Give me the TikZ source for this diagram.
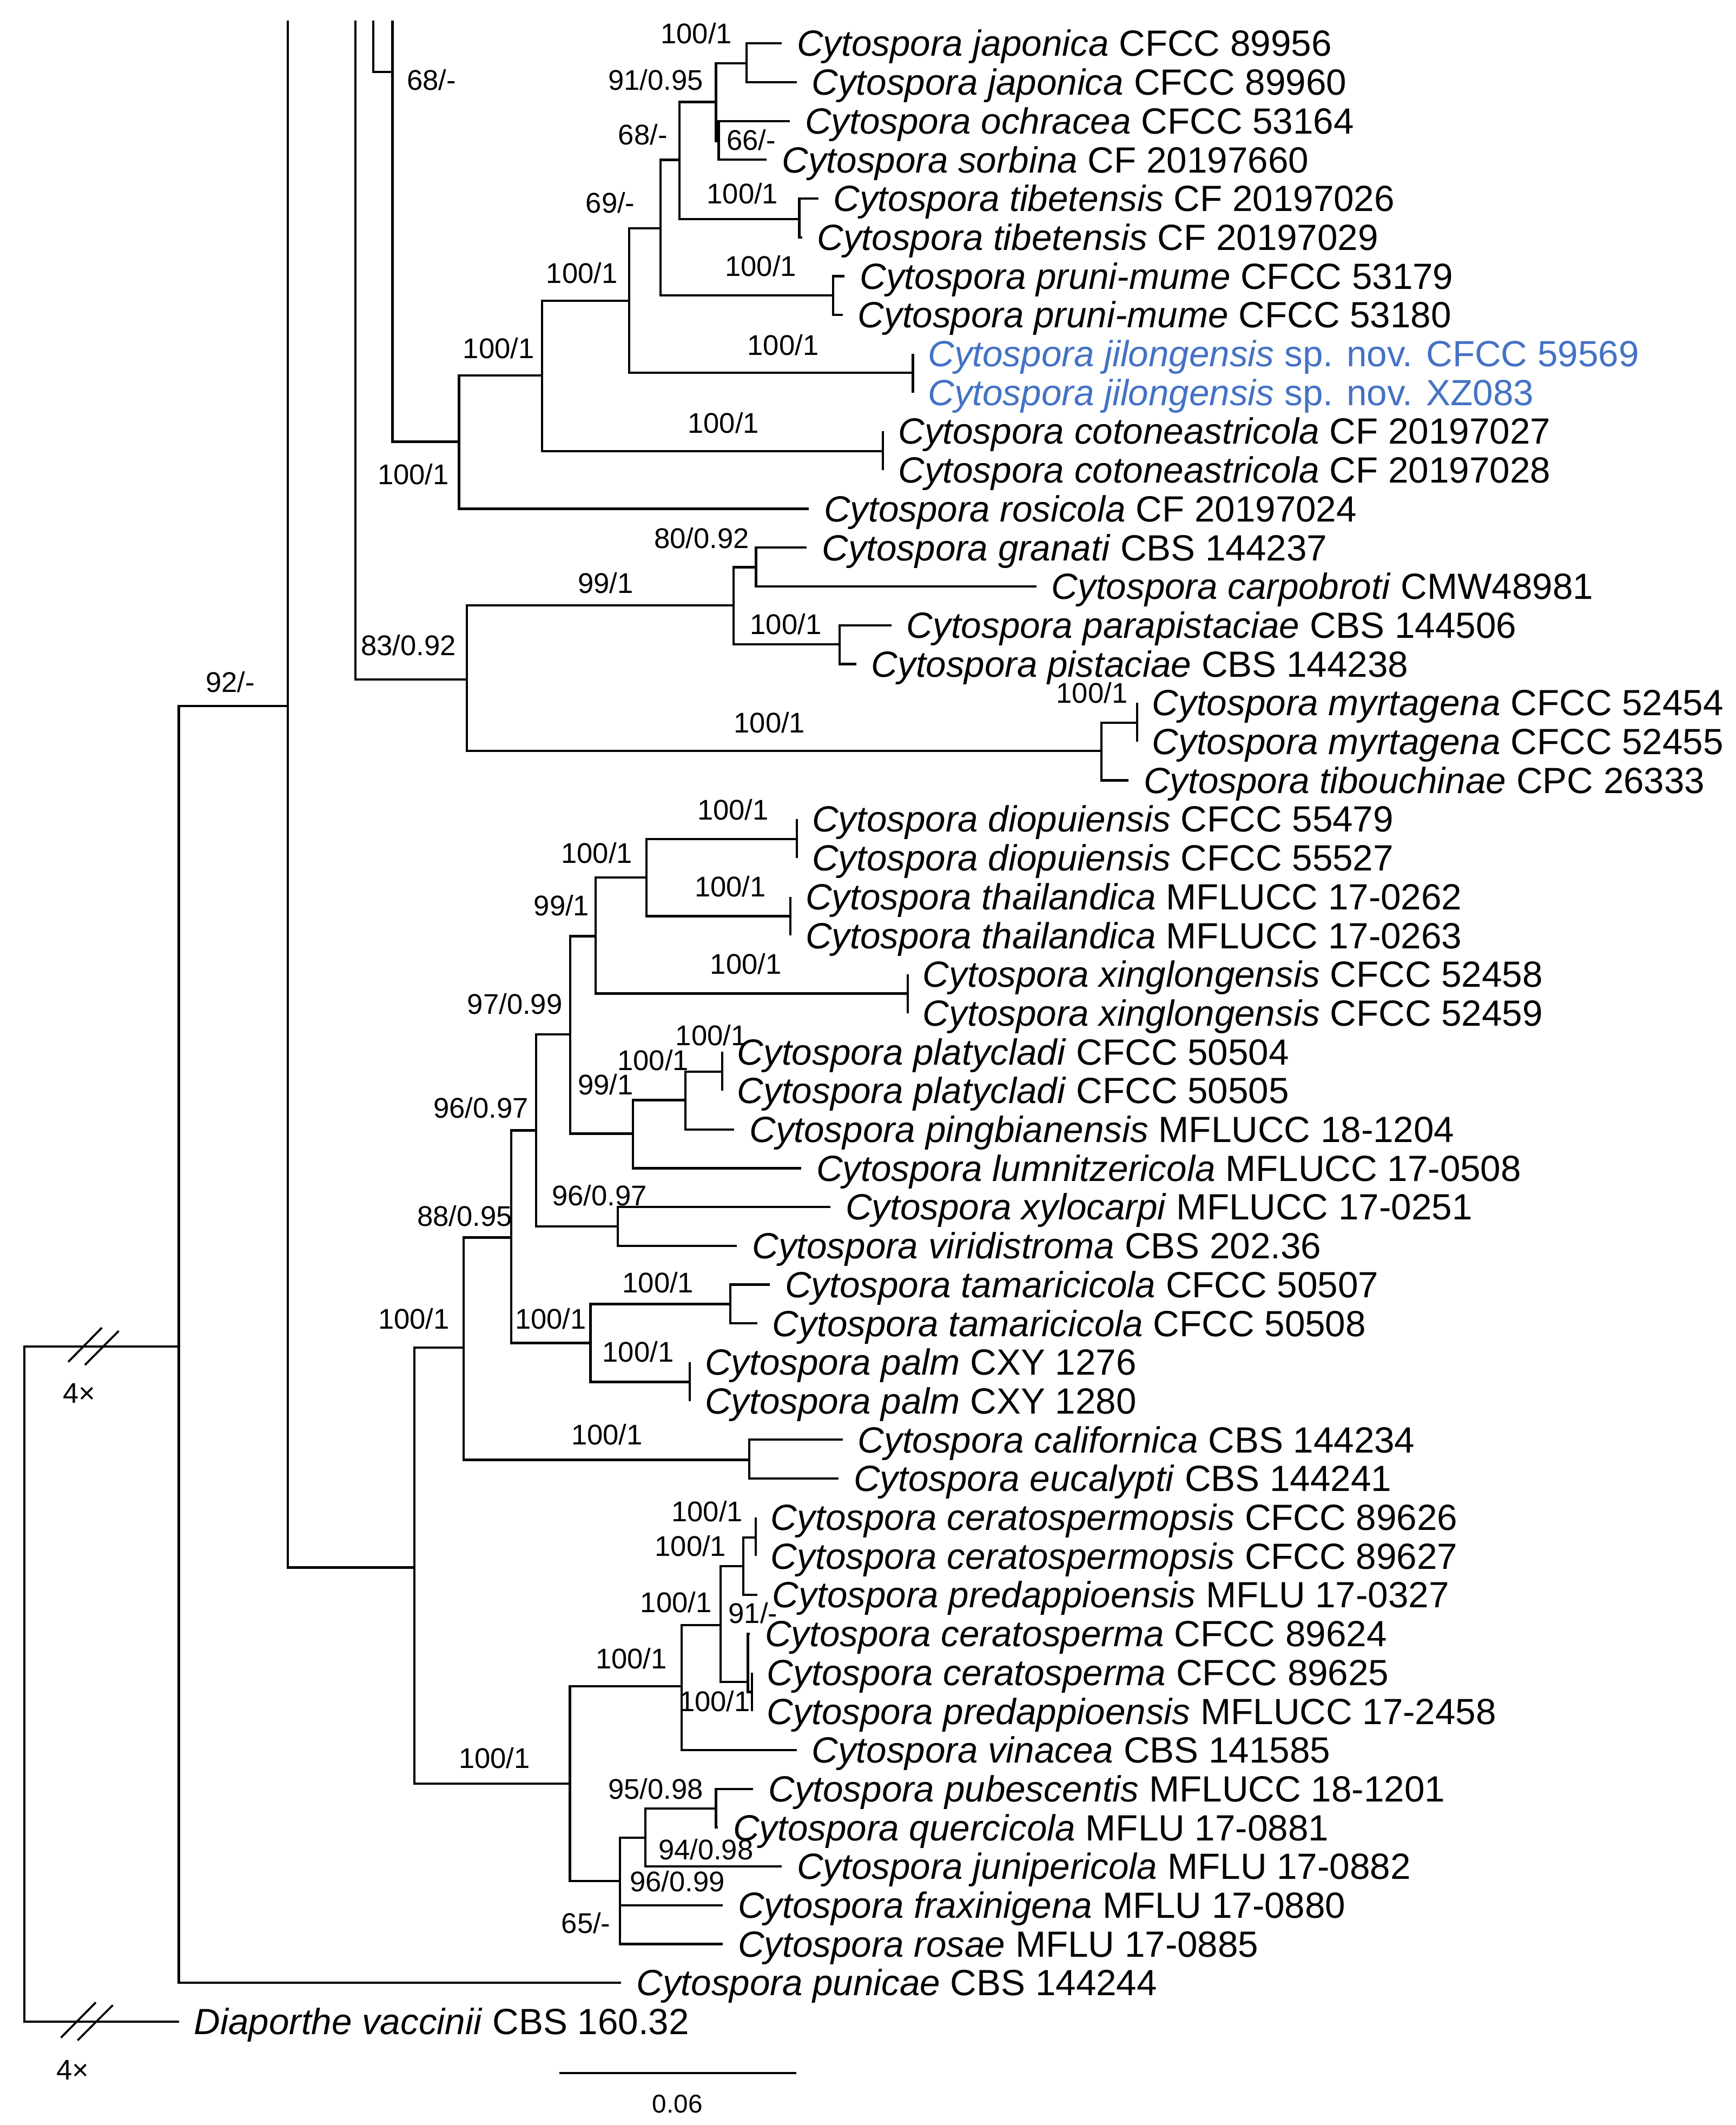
\documentclass[tikz,border=0pt]{standalone}
\usepackage{fontspec}
\setmainfont{Liberation Sans}
\definecolor{novblue}{RGB}{68,114,196}
\newcommand{\leaffont}{\fontsize{26.9}{30}\selectfont}
\newcommand{\labfont}{\fontsize{21}{24}\selectfont}
\newcommand{\barfont}{\fontsize{19}{22}\selectfont}
\tikzset{
  br/.style={line width=1.7pt, line join=miter},
  brk/.style={line width=1.5pt},
  leaf/.style={anchor=base west, inner sep=0pt, font=\leaffont},
  bsv/.style={anchor=base, inner sep=0pt, font=\labfont},
}
\begin{document}
\begin{tikzpicture}[x=1pt,y=-1pt]
\fill[white] (0,0) rectangle (1281,1568.5);
\useasboundingbox (0,0) rectangle (1281,1568.5);

% ---------- tips ----------
\coordinate (t1) at (577,32.0);
\coordinate (t2) at (588,60.6);
\coordinate (t3) at (583,89.3);
\coordinate (t4) at (566,117.9);
\coordinate (t5) at (604,146.5);
\coordinate (t6) at (592,175.2);
\coordinate (t7) at (623.5,203.8);
\coordinate (t8) at (622,232.4);
\coordinate (t9) at (673.8,261.0);
\coordinate (t10) at (673.8,289.7);
\coordinate (t11) at (651.8,318.3);
\coordinate (t12) at (651.8,346.9);
\coordinate (t13) at (597,375.6);
\coordinate (t14) at (595.5,404.2);
\coordinate (t15) at (765,432.8);
\coordinate (t16) at (658,461.5);
\coordinate (t17) at (632,490.1);
\coordinate (t18) at (839.3,518.7);
\coordinate (t19) at (839.3,547.4);
\coordinate (t20) at (833,576.0);
\coordinate (t21) at (588.3,604.6);
\coordinate (t22) at (588.3,633.2);
\coordinate (t23) at (583.5,661.9);
\coordinate (t24) at (583.5,690.5);
\coordinate (t25) at (670,719.1);
\coordinate (t26) at (670,747.8);
\coordinate (t27) at (533,776.4);
\coordinate (t28) at (533,805.0);
\coordinate (t29) at (542,833.7);
\coordinate (t30) at (591.4,862.3);
\coordinate (t31) at (613,890.9);
\coordinate (t32) at (544,919.6);
\coordinate (t33) at (568.3,948.2);
\coordinate (t34) at (559,976.8);
\coordinate (t35) at (509.2,1005.4);
\coordinate (t36) at (509.2,1034.1);
\coordinate (t37) at (622,1062.7);
\coordinate (t38) at (619,1091.3);
\coordinate (t39) at (557.8,1120.0);
\coordinate (t40) at (557.8,1148.6);
\coordinate (t41) at (559,1177.2);
\coordinate (t42) at (553.5,1205.9);
\coordinate (t43) at (555,1234.5);
\coordinate (t44) at (555,1263.1);
\coordinate (t45) at (588,1291.8);
\coordinate (t46) at (556,1320.4);
\coordinate (t47) at (530,1349.0);
\coordinate (t48) at (577,1377.6);
\coordinate (t49) at (533.5,1406.3);
\coordinate (t50) at (533.5,1434.9);
\coordinate (t51) at (458.6,1463.5);
\coordinate (t52) at (132,1492.2);

% ---------- internal nodes ----------
\coordinate (r) at (18,1243);
\coordinate (n133) at (132,994);
\coordinate (n212) at (212.3,521);
\coordinate (top212) at (212.3,15);
\coordinate (top262) at (262.2,15);
\coordinate (top275) at (275.5,15);
\coordinate (top290) at (289.7,15);
\coordinate (n290) at (289.7,53.2);
\coordinate (n339) at (338.8,326);
\coordinate (n400) at (400,277);
\coordinate (n652) at (651.8,333);
\coordinate (n465) at (464.5,222);
\coordinate (n674) at (673.8,275);
\coordinate (n487) at (487.5,168.4);
\coordinate (n615) at (615,218);
\coordinate (n501) at (501.5,118);
\coordinate (n590) at (590,161.7);
\coordinate (n528) at (528.5,75.3);
\coordinate (n551) at (551,46.6);
\coordinate (n530) at (530.5,104);
\coordinate (n345) at (344.7,501.5);
\coordinate (n541) at (541.4,446.7);
\coordinate (n558) at (558,418.7);
\coordinate (n620) at (619.6,475.5);
\coordinate (n813) at (813,554.2);
\coordinate (n839) at (839.3,533.5);
\coordinate (n306) at (306,1157);
\coordinate (n342) at (342.1,994.7);
\coordinate (n553) at (553,1077.5);
\coordinate (n377) at (377.4,913.4);
\coordinate (n396) at (395.7,834.4);
\coordinate (n436) at (435.8,991.3);
\coordinate (n421) at (420.8,763.6);
\coordinate (n456) at (456,905.2);
\coordinate (n440) at (439.5,691);
\coordinate (n467) at (467.3,836.7);
\coordinate (n477) at (477.2,647.7);
\coordinate (n670) at (670,733.3);
\coordinate (n588) at (588.3,619.2);
\coordinate (n584) at (583.5,676.2);
\coordinate (n506) at (506,812);
\coordinate (n533) at (533,791);
\coordinate (n539) at (539,962.5);
\coordinate (n509) at (509.2,1020);
\coordinate (n420) at (420.7,1316.6);
\coordinate (n503) at (503.2,1244.7);
\coordinate (n457) at (457.5,1388.4);
\coordinate (n532) at (531.8,1199.4);
\coordinate (n549) at (548.7,1156);
\coordinate (n552) at (552,1241.5);
\coordinate (n558b) at (557.8,1134.8);
\coordinate (n555) at (555,1248.8);
\coordinate (n476) at (476.4,1356.5);
\coordinate (n528b) at (528.5,1335);

% ---------- branches ----------
\begin{scope}[br]
\draw (r) |- (n133); \draw (r) |- (t52);
\draw (n133) |- (n212); \draw (n133) |- (t51);
\draw (n212) -- (top212); \draw (n212) |- (n306);
\draw (top262) |- (n345);
\draw (top275) |- (n290);
\draw (n290) -- (top290); \draw (n290) |- (n339);
\draw (n339) |- (n400); \draw (n339) |- (t13);
\draw (n400) |- (n465); \draw (n400) |- (n652);
\draw (n652) |- (t11); \draw (n652) |- (t12);
\draw (n465) |- (n487); \draw (n465) |- (n674);
\draw (n674) |- (t9); \draw (n674) |- (t10);
\draw (n487) |- (n501); \draw (n487) |- (n615);
\draw (n615) |- (t7); \draw (n615) |- (t8);
\draw (n501) |- (n528); \draw (n501) |- (n590);
\draw (n590) |- (t5); \draw (n590) |- (t6);
\draw (n528) |- (n551); \draw (n528) |- (n530);
\draw (n551) |- (t1); \draw (n551) |- (t2);
\draw (n530) |- (t3); \draw (n530) |- (t4);
\draw (n345) |- (n541); \draw (n345) |- (n813);
\draw (n541) |- (n558); \draw (n541) |- (n620);
\draw (n558) |- (t14); \draw (n558) |- (t15);
\draw (n620) |- (t16); \draw (n620) |- (t17);
\draw (n813) |- (n839); \draw (n813) |- (t20);
\draw (n839) |- (t18); \draw (n839) |- (t19);
\draw (n306) |- (n342); \draw (n306) |- (n420);
\draw (n342) |- (n377); \draw (n342) |- (n553);
\draw (n553) |- (t37); \draw (n553) |- (t38);
\draw (n377) |- (n396); \draw (n377) |- (n436);
\draw (n396) |- (n421); \draw (n396) |- (n456);
\draw (n421) |- (n440); \draw (n421) |- (n467);
\draw (n440) |- (n477); \draw (n440) |- (n670);
\draw (n670) |- (t25); \draw (n670) |- (t26);
\draw (n477) |- (n588); \draw (n477) |- (n584);
\draw (n588) |- (t21); \draw (n588) |- (t22);
\draw (n584) |- (t23); \draw (n584) |- (t24);
\draw (n467) |- (n506); \draw (n467) |- (t30);
\draw (n506) |- (n533); \draw (n506) |- (t29);
\draw (n533) |- (t27); \draw (n533) |- (t28);
\draw (n456) |- (t31); \draw (n456) |- (t32);
\draw (n436) |- (n539); \draw (n436) |- (n509);
\draw (n539) |- (t33); \draw (n539) |- (t34);
\draw (n509) |- (t35); \draw (n509) |- (t36);
\draw (n420) |- (n503); \draw (n420) |- (n457);
\draw (n503) |- (n532); \draw (n503) |- (t45);
\draw (n532) |- (n549); \draw (n532) |- (n552);
\draw (n549) |- (n558b); \draw (n549) |- (t41);
\draw (n558b) |- (t39); \draw (n558b) |- (t40);
\draw (n552) |- (t42); \draw (n552) |- (n555);
\draw (n555) |- (t43); \draw (n555) |- (t44);
\draw (n457) |- (n476); \draw (n457) |- (t49); \draw (n457) |- (t50);
\draw (n476) |- (n528b); \draw (n476) |- (t48);
\draw (n528b) |- (t46); \draw (n528b) |- (t47);
\end{scope}

% ---------- break marks ----------
\draw[brk] (50.4,1005.2) -- (75.2,980);
\draw[brk] (62.7,1007.5) -- (87.6,982.4);
\draw[brk] (45,1504) -- (70.7,1478);
\draw[brk] (57.3,1506) -- (83.3,1480);
\node[bsv] (x4a) at (58.5,1035.7) {4×};
\node[bsv] (x4b) at (53.5,1535) {4×};

% ---------- scale bar ----------
\coordinate (sb1) at (412.7,1530);
\coordinate (sb2) at (587.8,1530);
\draw[br] (sb1) -- (sb2);
\node[bsv, font=\barfont] (sbl) at (500,1559.5) {0.06};

% ---------- leaf labels ----------
\newcommand{\lf}[3]{\node[leaf] (L#1) at ([xshift=11pt,yshift=-9.5pt]t#1) {#2};}
\lf{1}{\textit{Cytospora japonica} CFCC 89956}{}
\lf{2}{\textit{Cytospora japonica} CFCC 89960}{}
\lf{3}{\textit{Cytospora ochracea} CFCC 53164}{}
\lf{4}{\textit{Cytospora sorbina} CF 20197660}{}
\lf{5}{\textit{Cytospora tibetensis} CF 20197026}{}
\lf{6}{\textit{Cytospora tibetensis} CF 20197029}{}
\lf{7}{\textit{Cytospora pruni-mume} CFCC 53179}{}
\lf{8}{\textit{Cytospora pruni-mume} CFCC 53180}{}
\lf{9}{\color{novblue}\textit{Cytospora jilongensis} sp. nov. CFCC 59569}{}
\lf{10}{\color{novblue}\textit{Cytospora jilongensis} sp. nov. XZ083}{}
\lf{11}{\textit{Cytospora cotoneastricola} CF 20197027}{}
\lf{12}{\textit{Cytospora cotoneastricola} CF 20197028}{}
\lf{13}{\textit{Cytospora rosicola} CF 20197024}{}
\lf{14}{\textit{Cytospora granati} CBS 144237}{}
\lf{15}{\textit{Cytospora carpobroti} CMW48981}{}
\lf{16}{\textit{Cytospora parapistaciae} CBS 144506}{}
\lf{17}{\textit{Cytospora pistaciae} CBS 144238}{}
\lf{18}{\textit{Cytospora myrtagena} CFCC 52454}{}
\lf{19}{\textit{Cytospora myrtagena} CFCC 52455}{}
\lf{20}{\textit{Cytospora tibouchinae} CPC 26333}{}
\lf{21}{\textit{Cytospora diopuiensis} CFCC 55479}{}
\lf{22}{\textit{Cytospora diopuiensis} CFCC 55527}{}
\lf{23}{\textit{Cytospora thailandica} MFLUCC 17-0262}{}
\lf{24}{\textit{Cytospora thailandica} MFLUCC 17-0263}{}
\lf{25}{\textit{Cytospora xinglongensis} CFCC 52458}{}
\lf{26}{\textit{Cytospora xinglongensis} CFCC 52459}{}
\lf{27}{\textit{Cytospora platycladi} CFCC 50504}{}
\lf{28}{\textit{Cytospora platycladi} CFCC 50505}{}
\lf{29}{\textit{Cytospora pingbianensis} MFLUCC 18-1204}{}
\lf{30}{\textit{Cytospora lumnitzericola} MFLUCC 17-0508}{}
\lf{31}{\textit{Cytospora xylocarpi} MFLUCC 17-0251}{}
\lf{32}{\textit{Cytospora viridistroma} CBS 202.36}{}
\lf{33}{\textit{Cytospora tamaricicola} CFCC 50507}{}
\lf{34}{\textit{Cytospora tamaricicola} CFCC 50508}{}
\lf{35}{\textit{Cytospora palm} CXY 1276}{}
\lf{36}{\textit{Cytospora palm} CXY 1280}{}
\lf{37}{\textit{Cytospora californica} CBS 144234}{}
\lf{38}{\textit{Cytospora eucalypti} CBS 144241}{}
\lf{39}{\textit{Cytospora ceratospermopsis} CFCC 89626}{}
\lf{40}{\textit{Cytospora ceratospermopsis} CFCC 89627}{}
\lf{41}{\textit{Cytospora predappioensis} MFLU 17-0327}{}
\lf{42}{\textit{Cytospora ceratosperma} CFCC 89624}{}
\lf{43}{\textit{Cytospora ceratosperma} CFCC 89625}{}
\lf{44}{\textit{Cytospora predappioensis} MFLUCC 17-2458}{}
\lf{45}{\textit{Cytospora vinacea} CBS 141585}{}
\lf{46}{\textit{Cytospora pubescentis} MFLUCC 18-1201}{}
\lf{47}{\textit{Cytospora quercicola} MFLU 17-0881}{}
\lf{48}{\textit{Cytospora junipericola} MFLU 17-0882}{}
\lf{49}{\textit{Cytospora fraxinigena} MFLU 17-0880}{}
\lf{50}{\textit{Cytospora rosae} MFLU 17-0885}{}
\lf{51}{\textit{Cytospora punicae} CBS 144244}{}
\lf{52}{\textit{Diaporthe vaccinii} CBS 160.32}{}

% ---------- support values ----------
\node[bsv] (b1) at (514,32) {100/1};
\node[bsv] (b2) at (484,66.5) {91/0.95};
\node[bsv] (b3) at (554.5,111) {66/-};
\node[bsv] (b4) at (474.5,107) {68/-};
\node[bsv] (b5) at (548,150.5) {100/1};
\node[bsv] (b6) at (450.5,157) {69/-};
\node[bsv] (b7) at (561.5,204) {100/1};
\node[bsv] (b8) at (429.5,209) {100/1};
\node[bsv] (b9) at (578,262) {100/1};
\node[bsv] (b10) at (368,264.6) {100/1};
\node[bsv] (b11) at (534,319.5) {100/1};
\node[bsv] (b12) at (305,357.5) {100/1};
\node[bsv] (b13) at (318.5,66.5) {68/-};
\node[bsv] (b14) at (518,404.5) {80/0.92};
\node[bsv] (b15) at (447,437.7) {99/1};
\node[bsv] (b16) at (580,468) {100/1};
\node[bsv] (b17) at (301.5,483.7) {83/0.92};
\node[bsv] (b18) at (568,541) {100/1};
\node[bsv] (b19) at (806,519) {100/1};
\node[bsv] (b20) at (170,511) {92/-};
\node[bsv] (b21) at (541,605) {100/1};
\node[bsv] (b22) at (440.5,637) {100/1};
\node[bsv] (b23) at (539,662) {100/1};
\node[bsv] (b24) at (414.5,676) {99/1};
\node[bsv] (b25) at (550.5,719) {100/1};
\node[bsv] (b26) at (380,748.4) {97/0.99};
\node[bsv] (b27) at (525,771.5) {100/1};
\node[bsv] (b28) at (482,790) {100/1};
\node[bsv] (b29) at (447,808) {99/1};
\node[bsv] (b30) at (355,825) {96/0.97};
\node[bsv] (b31) at (442.5,890) {96/0.97};
\node[bsv] (b32) at (343,905) {88/0.95};
\node[bsv] (b33) at (485.7,954) {100/1};
\node[bsv] (b34) at (406.5,980.8) {100/1};
\node[bsv] (b35) at (305.5,980.8) {100/1};
\node[bsv] (b36) at (471,1005.3) {100/1};
\node[bsv] (b37) at (448,1066.4) {100/1};
\node[bsv] (b38) at (522,1123) {100/1};
\node[bsv] (b39) at (509.7,1148.8) {100/1};
\node[bsv] (b40) at (499,1190) {100/1};
\node[bsv] (b41) at (555.8,1198) {91/-};
\node[bsv] (b42) at (466,1231.5) {100/1};
\node[bsv] (b43) at (527.5,1263.3) {100/1};
\node[bsv] (b44) at (365,1305) {100/1};
\node[bsv] (b45) at (484,1328) {95/0.98};
\node[bsv] (b46) at (521,1372.5) {94/0.98};
\node[bsv] (b47) at (500,1396) {96/0.99};
\node[bsv] (b48) at (432.5,1427) {65/-};
\end{tikzpicture}
\end{document}
